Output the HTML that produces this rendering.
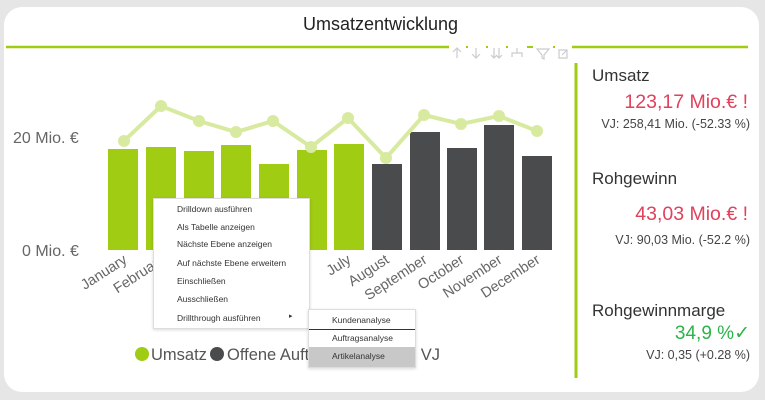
<!DOCTYPE html>
<html><head><meta charset="utf-8"><style>
html,body{margin:0;padding:0;width:765px;height:400px;background:#e6e6e6;overflow:hidden;font-family:"Liberation Sans","DejaVu Sans",sans-serif;}
.card{position:absolute;left:4px;top:7px;width:755px;height:385px;background:#fff;border-radius:18px;}
.t{position:absolute;white-space:nowrap;}
.menu{position:absolute;background:#fff;border:1px solid #ddd;box-shadow:0 1px 3px rgba(0,0,0,.15);font-size:8.5px;color:#333;}
.menu div{position:absolute;left:0;white-space:nowrap;}
</style></head><body>
<div class="card"></div>
<div class="t" style="left:0;width:765px;top:14px;text-align:center;font-size:18px;color:#222;transform:translateX(-2px)">Umsatzentwicklung</div>
<svg width="765" height="400" style="position:absolute;left:0;top:0">
<line x1="6" y1="47" x2="449" y2="47" stroke="#a0cc14" stroke-width="2.5"/>
<line x1="572" y1="47" x2="748" y2="47" stroke="#a0cc14" stroke-width="2.5"/>
<g stroke="#a0cc14" stroke-width="2"><line x1="466" y1="47" x2="468" y2="47"/><line x1="486" y1="47" x2="488" y2="47"/><line x1="506" y1="47" x2="508" y2="47"/><line x1="527" y1="47" x2="533" y2="47"/><line x1="553" y1="47" x2="555" y2="47"/></g>
<g fill="none" stroke="#ccc" stroke-width="1.2">
<path d="M457 58V49M453 52l4-4 4 4"/><path d="M476 48v9M472 54l4 4 4-4"/>
<path d="M494 48v9M499 48v9M491 55l3 3 3-3M496 55l3 3 3-3"/>
<path d="M517 48v5M512 57v-4h10v4"/>
<path d="M537 49h12l-5 6v4l-2-1v-3z"/><path d="M559 50h8v8h-8zM562 55l5-5"/>
</g>
<line x1="576" y1="63" x2="576" y2="378" stroke="#a0cc14" stroke-width="3"/>
<g fill="#a0cc14">
<rect x="108" y="149" width="30" height="101"/><rect x="146" y="147" width="30" height="103"/>
<rect x="184" y="151" width="30" height="99"/><rect x="221" y="145" width="30" height="105"/>
<rect x="259" y="164" width="30" height="86"/><rect x="297" y="150" width="30" height="100"/>
<rect x="334" y="144" width="30" height="106"/></g>
<g fill="#4a4b4d">
<rect x="372" y="164" width="30" height="86"/><rect x="410" y="132" width="30" height="118"/>
<rect x="447" y="148" width="30" height="102"/><rect x="484" y="125" width="30" height="125"/>
<rect x="522" y="156" width="30" height="94"/></g>
<polyline fill="none" stroke="#d8eaa0" stroke-width="4" points="124,141 161,106 199,121 236,132 273,121 311,147 348,118 386,158 424,115 461,124 499,116 537,131"/>
<g fill="#d8eaa0"><circle cx="124" cy="141" r="6"/><circle cx="161" cy="106" r="6"/><circle cx="199" cy="121" r="6"/><circle cx="236" cy="132" r="6"/><circle cx="273" cy="121" r="6"/><circle cx="311" cy="147" r="6"/><circle cx="348" cy="118" r="6"/><circle cx="386" cy="158" r="6"/><circle cx="424" cy="115" r="6"/><circle cx="461" cy="124" r="6"/><circle cx="499" cy="116" r="6"/><circle cx="537" cy="131" r="6"/></g>
<g font-size="16" fill="#666" font-family="Liberation Sans,sans-serif">
<text x="13" y="143">20 Mio. €</text><text x="22" y="256">0 Mio. €</text>
<g text-anchor="end" font-size="14.5">
<text transform="translate(128,262) rotate(-33)">January</text>
<text transform="translate(166,262) rotate(-33)">February</text>
<text transform="translate(204,262) rotate(-33)">March</text>
<text transform="translate(352,262) rotate(-33)">July</text>
<text transform="translate(390,262) rotate(-33)">August</text>
<text transform="translate(428,262) rotate(-33)">September</text>
<text transform="translate(465,262) rotate(-33)">October</text>
<text transform="translate(503,262) rotate(-33)">November</text>
<text transform="translate(541,262) rotate(-33)">December</text>
</g></g>
<circle cx="142" cy="354" r="7" fill="#a0cc14"/>
<circle cx="217" cy="354" r="7" fill="#4a4b4d"/>
<g font-size="16.5" fill="#555"><text x="151" y="360">Umsatz</text><text x="227" y="360">Offene Aufträge</text><text x="440" y="360" text-anchor="end">Umsatz VJ</text></g>
</svg>
<div class="menu" style="left:153px;top:198px;width:155px;height:129px;">
<div style="left:23px;top:5px">Drilldown ausführen</div>
<div style="left:23px;top:23px">Als Tabelle anzeigen</div>
<div style="left:23px;top:40px">Nächste Ebene anzeigen</div>
<div style="left:23px;top:59px">Auf nächste Ebene erweitern</div>
<div style="left:23px;top:77px">Einschließen</div>
<div style="left:23px;top:95px">Ausschließen</div>
<div style="left:23px;top:114px">Drillthrough ausführen</div>
<div style="left:135px;top:113px;font-size:7px">▸</div>
</div>
<div class="menu" style="left:308px;top:309px;width:106px;height:57px;">
<div style="left:0;top:0;width:106px;height:19px;border-bottom:1.5px solid #333"></div>
<div style="left:23px;top:5px">Kundenanalyse</div>
<div style="left:23px;top:23px">Auftragsanalyse</div>
<div style="left:0;top:37px;width:106px;height:20px;background:#c8c8c8"></div>
<div style="left:23px;top:41px">Artikelanalyse</div>
</div>
<div class="t" style="left:592px;top:66px;font-size:17px;color:#333">Umsatz</div>
<div class="t" style="right:17px;top:91px;font-size:19.5px;color:#e0415b">123,17 Mio.€ !</div>
<div class="t" style="right:15px;top:117px;font-size:12.5px;color:#444">VJ: 258,41 Mio. (-52.33 %)</div>
<div class="t" style="left:592px;top:169px;font-size:17px;color:#333">Rohgewinn</div>
<div class="t" style="right:17px;top:203px;font-size:19.5px;color:#e0415b">43,03 Mio.€ !</div>
<div class="t" style="right:15px;top:233px;font-size:12.5px;color:#444">VJ: 90,03 Mio. (-52.2 %)</div>
<div class="t" style="left:592px;top:301px;font-size:17px;color:#333">Rohgewinnmarge</div>
<div class="t" style="right:15px;top:322px;font-size:19px;color:#2db34a">34,9 %✓</div>
<div class="t" style="right:15px;top:348px;font-size:12.5px;color:#444">VJ: 0,35 (+0.28 %)</div>
</body></html>
